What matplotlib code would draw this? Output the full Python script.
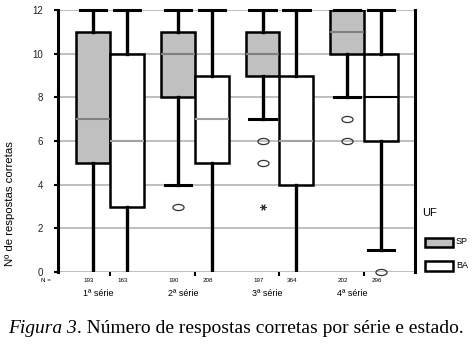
import matplotlib
matplotlib.use("Agg")
import matplotlib.pyplot as plt
from matplotlib.path import Path
from matplotlib.transforms import Affine2D
from matplotlib.patches import Rectangle

plt.rcParams["font.family"] = ["Liberation Sans", "DejaVu Sans"]

# series (grade) labels and sample sizes
groups = ["1ª série", "2ª série", "3ª série", "4ª série"]
n_sp = [193, 190, 197, 202]
n_ba = [163, 208, 364, 296]

# box stats per state: whisker low, q1, median, q3, whisker high
sp_wlo = [0, 4, 7, 8]
sp_q1 = [5, 8, 9, 10]
sp_med = [7, 10, 10, 11]
sp_q3 = [11, 11, 11, 12]
sp_whi = [12, 12, 12, 12]
sp_fliers = [[], [3], [6, 5], [7, 6]]
sp_extreme = [[], [], [3], []]

ba_wlo = [0, 0, 0, 1]
ba_q1 = [3, 5, 4, 6]
ba_med = [6, 7, 6, 8]
ba_q3 = [10, 9, 9, 10]
ba_whi = [12, 12, 12, 12]
ba_fliers = [[], [], [], [0]]

fig = plt.figure(figsize=(4.76, 3.49), dpi=100)
ax = fig.add_axes([58 / 476, 1 - 272 / 349, (415 - 58) / 476, (272 - 10) / 349])

for y in range(0, 13, 2):
    ax.axhline(y, color="#b4b4b4", lw=1.2, zorder=0)

ell = Path.unit_circle().transformed(Affine2D().scale(1.0, 0.55))


def stats(wlo, q1, med, q3, whi, fl):
    return [dict(whislo=a, q1=b, med=c, q3=d, whishi=e, fliers=f)
            for a, b, c, d, e, f in zip(wlo, q1, med, q3, whi, fl)]


pos = list(range(1, len(groups) + 1))
common = dict(widths=0.4, capwidths=0.31, showfliers=True, patch_artist=True,
              whiskerprops=dict(color="black", lw=2.4),
              capprops=dict(color="black", lw=2.2),
              flierprops=dict(marker=ell, markersize=8, markerfacecolor="none",
                              markeredgecolor="#333333", markeredgewidth=0.9))

b1 = ax.bxp(stats(sp_wlo, sp_q1, sp_med, sp_q3, sp_whi, sp_fliers),
            positions=[p - 0.2 for p in pos],
            boxprops=dict(facecolor="#c0c0c0", edgecolor="black", lw=1.8),
            medianprops=dict(color="#808080", lw=1.5), **common)
b2 = ax.bxp(stats(ba_wlo, ba_q1, ba_med, ba_q3, ba_whi, ba_fliers),
            positions=[p + 0.2 for p in pos],
            boxprops=dict(facecolor="white", edgecolor="black", lw=1.8),
            medianprops=dict(color="#a0a0a0", lw=1.5), **common)
b2["medians"][3].set_color("black")
for art in b1["fliers"] + b2["fliers"]:
    art.set_clip_on(False)
for art in b1["caps"] + b2["caps"]:
    if art.get_ydata()[0] == 0:
        art.set_visible(False)
    else:
        art.set_clip_on(False)

for p, ys in zip(pos, sp_extreme):
    for y in ys:
        ax.plot(p - 0.2, y, marker=(6, 2, 90), ms=4.5, color="#333333", mew=0.8,
                clip_on=False)

ax.set_xlim(0.385, 4.6)
ax.set_ylim(0, 12)
ax.set_yticks(range(0, 13, 2))
ax.set_xticks(pos)
ax.set_xticklabels([])
ax.tick_params(axis="y", labelsize=7, length=3, width=1.5, colors="black",
               labelcolor="#222222", pad=8)
ax.tick_params(axis="x", length=3, width=1.5, direction="out")
for s in ["top", "bottom"]:
    ax.spines[s].set_visible(False)
for s in ["left", "right"]:
    ax.spines[s].set_linewidth(2.2)
ax.set_ylabel("Nº de respostas corretas", fontsize=8.2)
ax.yaxis.set_label_coords(-0.12, 0.261)

# N labels and group labels
fig.text(46 / 476, 1 - 281 / 349, "N =", fontsize=4.5, ha="center", va="center")
for p, g, a, b in zip(pos, groups, n_sp, n_ba):
    xs = ax.transData.transform((p - 0.2, 0))[0] / 476
    xb = ax.transData.transform((p + 0.2, 0))[0] / 476
    fig.text(xs - 4 / 476, 1 - 281 / 349, str(a), fontsize=4.5, ha="center", va="center")
    fig.text(xb - 4 / 476, 1 - 281 / 349, str(b), fontsize=4.5, ha="center", va="center")
    xc = ax.transData.transform((p, 0))[0] / 476
    fig.text(xc - 12 / 476, 1 - 294 / 349, g, fontsize=6.5, ha="center", va="center")

# legend
fig.text(422 / 476, 1 - 213 / 349, "UF", fontsize=8, ha="left", va="center")
fig.patches.append(Rectangle((425 / 476, 1 - 247 / 349), 28 / 476, 9 / 349,
                             transform=fig.transFigure, facecolor="#c0c0c0",
                             edgecolor="black", lw=1.8, figure=fig))
fig.patches.append(Rectangle((425 / 476, 1 - 271 / 349), 28 / 476, 10 / 349,
                             transform=fig.transFigure, facecolor="white",
                             edgecolor="black", lw=1.8, figure=fig))
fig.text(456 / 476, 1 - 242 / 349, "SP", fontsize=6.5, ha="left", va="center")
fig.text(456 / 476, 1 - 266 / 349, "BA", fontsize=6.5, ha="left", va="center")

# caption
t1 = fig.text(8 / 476, 1 - 333 / 349, "Figura 3", fontsize=14, style="italic",
              family="Liberation Serif", ha="left", va="baseline")
fig.canvas.draw()
bb = t1.get_window_extent()
fig.text(bb.x1 / 476, 1 - 333 / 349, ". Número de respostas corretas por série e estado.",
         fontsize=14, family="Liberation Serif", ha="left", va="baseline")

fig.savefig("out.png", dpi=100)
